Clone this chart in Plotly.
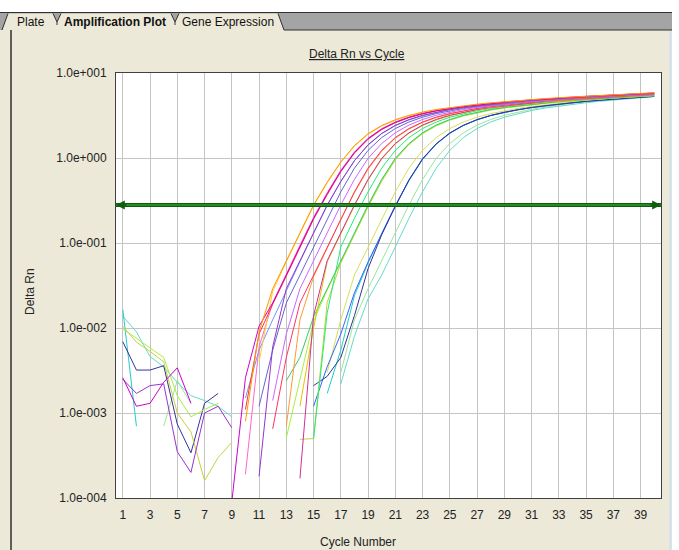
import math
import plotly.graph_objects as go

# ---------------- data ----------------
cycles = list(range(1, 41))
threshold = 0.28

x_tick_vals = list(range(1, 40, 2))
y_tick_vals = [1e-4, 1e-3, 1e-2, 1e-1, 1e0, 1e1]
y_tick_text = ["1.0e-004", "1.0e-003", "1.0e-002", "1.0e-001", "1.0e+000", "1.0e+001"]

# early (baseline) readings, starting at cycle 1 (None = not positive)
noise_w02 = [0.0026, 0.0012, 0.0013, 0.0023, 0.0034, 0.0013]
noise_w06 = [0.0025, 0.0017, 0.0021, 0.0022, 0.00035, 0.0002, 0.001, 0.0012, 0.00067]
noise_w15 = [0.0098, 0.0075, 0.0058, 0.0045, 0.0016, 0.0009, 0.0011, 0.0013]
noise_w17 = [0.0105, 0.0068, 0.0053, 0.004, 0.001, 0.0006, 0.00016, 0.0003, 0.00045]
noise_w18 = [0.0069, 0.0032, 0.0032, 0.0036, 0.00074, 0.00034, 0.0013, 0.0017]
noise_w20 = [0.0138, 0.009, 0.0046, 0.0035, 0.0023, 0.0016, 0.0014, 0.0012, 0.0009]
noise_w22 = [0.0165, 0.0007]
noise_w23 = [None, None, None, 0.0007, 0.0024, 0.0013]

# amplification readings: first cycle with a positive value, then values
start_w01, rise_w01 = 10, [0.0008, 0.009, 0.029, 0.062, 0.133, 0.28, 0.52, 0.90, 1.40, 1.93, 2.41, 2.82, 3.17, 3.47, 3.72, 3.93, 4.11, 4.30, 4.46, 4.61, 4.75, 4.88, 5.00, 5.12, 5.24, 5.35, 5.46, 5.56, 5.66, 5.76, 5.85]
start_w02, rise_w02 = 9, [0.00009, 0.0026, 0.0105, 0.0197, 0.042, 0.09, 0.195, 0.38, 0.70, 1.16, 1.69, 2.19, 2.63, 3.01, 3.33, 3.60, 3.83, 4.02, 4.19, 4.38, 4.54, 4.68, 4.82, 4.94, 5.06, 5.18, 5.30, 5.41, 5.51, 5.61, 5.71, 5.80]
start_w03, rise_w03 = 10, [0.0011, 0.0085, 0.019, 0.041, 0.088, 0.19, 0.37, 0.69, 1.14, 1.66, 2.16, 2.60, 2.98, 3.30, 3.57, 3.80, 4.00, 4.17, 4.35, 4.51, 4.65, 4.79, 4.91, 5.03, 5.15, 5.27, 5.38, 5.48, 5.58, 5.68, 5.77]
start_w04, rise_w04 = 11, [0.004, 0.027, 0.060, 0.130, 0.275, 0.51, 0.89, 1.38, 1.90, 2.38, 2.78, 3.13, 3.43, 3.68, 3.89, 4.07, 4.25, 4.41, 4.56, 4.70, 4.83, 4.95, 5.07, 5.19, 5.30, 5.41, 5.51, 5.61, 5.70, 5.79]
start_w05, rise_w05 = 10, [0.00019, 0.006, 0.0197, 0.044, 0.094, 0.20, 0.39, 0.72, 1.18, 1.71, 2.21, 2.65, 3.03, 3.35, 3.62, 3.85, 4.04, 4.22, 4.40, 4.56, 4.70, 4.84, 4.96, 5.08, 5.20, 5.32, 5.43, 5.53, 5.63, 5.73, 5.82]
start_w06, rise_w06 = 11, [0.00018, 0.006, 0.029, 0.062, 0.133, 0.28, 0.53, 0.93, 1.43, 1.95, 2.42, 2.83, 3.18, 3.47, 3.72, 3.93, 4.11, 4.30, 4.46, 4.61, 4.75, 4.88, 5.00, 5.12, 5.24, 5.35, 5.46, 5.56, 5.66, 5.76]
start_w07, rise_w07 = 10, [0.0015, 0.0055, 0.0125, 0.028, 0.060, 0.130, 0.275, 0.53, 0.93, 1.42, 1.93, 2.40, 2.80, 3.14, 3.43, 3.68, 3.89, 4.07, 4.25, 4.41, 4.56, 4.70, 4.83, 4.95, 5.07, 5.19, 5.30, 5.41, 5.51, 5.61, 5.70]
start_w08, rise_w08 = 11, [0.0012, 0.0055, 0.0197, 0.042, 0.09, 0.195, 0.40, 0.76, 1.23, 1.74, 2.22, 2.65, 3.02, 3.33, 3.60, 3.83, 4.02, 4.19, 4.38, 4.54, 4.68, 4.82, 4.94, 5.06, 5.18, 5.30, 5.41, 5.51, 5.61, 5.71]
start_w09, rise_w09 = 12, [0.0014, 0.0085, 0.029, 0.062, 0.133, 0.28, 0.56, 0.99, 1.48, 1.98, 2.44, 2.84, 3.18, 3.47, 3.72, 3.93, 4.11, 4.30, 4.46, 4.61, 4.75, 4.88, 5.00, 5.12, 5.24, 5.35, 5.46, 5.56, 5.66]
start_w10, rise_w10 = 12, [0.00065, 0.0045, 0.0197, 0.042, 0.09, 0.195, 0.40, 0.76, 1.23, 1.74, 2.22, 2.65, 3.02, 3.33, 3.60, 3.83, 4.02, 4.19, 4.38, 4.54, 4.68, 4.82, 4.94, 5.06, 5.18, 5.30, 5.41, 5.51, 5.61]
start_w11, rise_w11 = 13, [0.0007, 0.0125, 0.040, 0.088, 0.19, 0.39, 0.74, 1.20, 1.71, 2.19, 2.62, 2.99, 3.30, 3.57, 3.80, 4.00, 4.17, 4.35, 4.51, 4.65, 4.79, 4.91, 5.03, 5.15, 5.27, 5.38, 5.48, 5.58]
start_w12, rise_w12 = 14, [0.00017, 0.014, 0.062, 0.133, 0.28, 0.56, 0.99, 1.48, 1.98, 2.44, 2.84, 3.18, 3.47, 3.72, 3.93, 4.11, 4.30, 4.46, 4.61, 4.75, 4.88, 5.00, 5.12, 5.24, 5.35, 5.46, 5.56]
start_w13, rise_w13 = 14, [0.0012, 0.010, 0.060, 0.130, 0.275, 0.55, 0.97, 1.46, 1.95, 2.41, 2.80, 3.14, 3.43, 3.68, 3.89, 4.07, 4.25, 4.41, 4.56, 4.70, 4.83, 4.95, 5.07, 5.19, 5.30, 5.41, 5.51]
start_w14, rise_w14 = 13, [0.0024, 0.0045, 0.0135, 0.029, 0.062, 0.133, 0.28, 0.56, 0.99, 1.48, 1.98, 2.44, 2.84, 3.18, 3.47, 3.72, 3.93, 4.11, 4.30, 4.46, 4.61, 4.75, 4.88, 5.00, 5.12, 5.24, 5.35, 5.46]
start_w15, rise_w15 = 13, [0.00051, 0.0025, 0.012, 0.028, 0.060, 0.130, 0.275, 0.55, 0.97, 1.46, 1.95, 2.41, 2.80, 3.14, 3.43, 3.68, 3.89, 4.07, 4.25, 4.41, 4.56, 4.70, 4.83, 4.95, 5.07, 5.19, 5.30, 5.41]
start_w16, rise_w16 = 15, [0.0005, 0.015, 0.090, 0.195, 0.40, 0.76, 1.23, 1.74, 2.22, 2.65, 3.02, 3.33, 3.60, 3.83, 4.02, 4.19, 4.38, 4.54, 4.68, 4.82, 4.94, 5.06, 5.18, 5.30, 5.41, 5.51]
start_w17, rise_w17 = 14, [0.00049, 0.0005, 0.020, 0.058, 0.125, 0.265, 0.53, 0.95, 1.44, 1.93, 2.39, 2.79, 3.13, 3.42, 3.67, 3.88, 4.06, 4.24, 4.40, 4.55, 4.69, 4.82, 4.94, 5.06, 5.18, 5.29, 5.40]
start_w18, rise_w18 = 15, [0.0021, 0.0027, 0.0045, 0.014, 0.050, 0.125, 0.27, 0.55, 0.98, 1.47, 1.97, 2.43, 2.83, 3.17, 3.46, 3.71, 3.93, 4.12, 4.31, 4.48, 4.64, 4.79, 4.93, 5.06, 5.19, 5.31]
start_w19, rise_w19 = 15, [0.0012, 0.0035, 0.0085, 0.026, 0.060, 0.130, 0.275, 0.55, 0.97, 1.46, 1.96, 2.42, 2.82, 3.16, 3.45, 3.70, 3.92, 4.11, 4.30, 4.47, 4.63, 4.78, 4.92, 5.05, 5.18, 5.30]
start_w20, rise_w20 = 17, [0.0022, 0.008, 0.022, 0.042, 0.09, 0.195, 0.40, 0.76, 1.23, 1.74, 2.22, 2.65, 3.02, 3.33, 3.62, 3.87, 4.08, 4.28, 4.47, 4.65, 4.82, 4.98, 5.13, 5.27]
start_w21, rise_w21 = 16, [0.003, 0.0125, 0.042, 0.09, 0.195, 0.40, 0.76, 1.23, 1.74, 2.22, 2.65, 3.02, 3.33, 3.60, 3.83, 4.04, 4.23, 4.41, 4.58, 4.74, 4.89, 5.03, 5.16, 5.29, 5.41]
start_w22, rise_w22 = 16, [0.0017, 0.0055, 0.024, 0.058, 0.128, 0.27, 0.54, 0.96, 1.45, 1.95, 2.41, 2.81, 3.15, 3.45, 3.70, 3.92, 4.12, 4.31, 4.49, 4.66, 4.82, 4.96, 5.10, 5.23, 5.36]
start_w23, rise_w23 = 17, [0.003, 0.0125, 0.029, 0.062, 0.133, 0.28, 0.56, 0.99, 1.48, 1.98, 2.44, 2.84, 3.18, 3.47, 3.74, 3.98, 4.20, 4.40, 4.59, 4.77, 4.94, 5.10, 5.25, 5.40]

# drawing order (last on top) with line colours
wells = [
    (noise_w23, start_w23, rise_w23, "#99E699"),
    (noise_w20, start_w20, rise_w20, "#66D9CC"),
    (noise_w22, start_w22, rise_w22, "#22CCCC"),
    ([], start_w21, rise_w21, "#D8DE5A"),
    ([], start_w19, rise_w19, "#3366FF"),
    (noise_w18, start_w18, rise_w18, "#333399"),
    (noise_w17, start_w17, rise_w17, "#C8D040"),
    ([], start_w16, rise_w16, "#22EE77"),
    (noise_w15, start_w15, rise_w15, "#A6F040"),
    ([], start_w14, rise_w14, "#33CC66"),
    ([], start_w13, rise_w13, "#E6C300"),
    ([], start_w12, rise_w12, "#CC3399"),
    ([], start_w11, rise_w11, "#FF9933"),
    ([], start_w10, rise_w10, "#FF3366"),
    ([], start_w09, rise_w09, "#CC66FF"),
    ([], start_w08, rise_w08, "#6666CC"),
    ([], start_w07, rise_w07, "#6699FF"),
    (noise_w06, start_w06, rise_w06, "#9933CC"),
    ([], start_w05, rise_w05, "#FF66CC"),
    ([], start_w04, rise_w04, "#FFCC33"),
    ([], start_w03, rise_w03, "#FF3333"),
    (noise_w02, start_w02, rise_w02, "#CC00CC"),
    ([], start_w01, rise_w01, "#FF9900"),
]

# ---------------- figure ----------------
W, H = 679, 550
L, R, T, B = 116, 661, 73, 498
PANEL = "#ECE9D8"
DARK = "#303030"
FONT = "Liberation Sans, Arial, sans-serif"


def px(x):
    return (x - L) / (R - L)


def py(y):
    return (B - y) / (B - T)


fig = go.Figure()

for noise, start, rise, color in wells:
    y = list(noise) + [None] * (start - 1 - len(noise)) + list(rise)
    fig.add_trace(go.Scatter(
        x=cycles[:len(y)], y=y, mode="lines",
        line=dict(color=color, width=1), connectgaps=False,
        hoverinfo="skip", showlegend=False))

# threshold line
fig.add_trace(go.Scatter(x=[0.5, 40.5], y=[threshold, threshold], mode="lines",
                         line=dict(color="#0E5E0E", width=4), hoverinfo="skip", showlegend=False))
fig.add_trace(go.Scatter(x=[0.5, 40.5], y=[threshold, threshold], mode="lines",
                         line=dict(color="#2F9B2F", width=1.5), hoverinfo="skip", showlegend=False))

shapes = []


def seg(x0, y0, x1, y1, color=DARK, width=1):
    shapes.append(dict(type="line", xref="paper", yref="paper", x0=px(x0), x1=px(x1), y0=py(y0), y1=py(y1),
                       line=dict(color=color, width=width), layer="above"))


def poly(pts, fill):
    path = "M " + " L ".join(f"{px(a):.5f},{py(b):.5f}" for a, b in pts) + " Z"
    shapes.append(dict(type="path", xref="paper", yref="paper", path=path,
                       fillcolor=fill, line=dict(width=0), layer="above"))


# white strip at top and right
poly([(0, 0), (W, 0), (W, 12.5), (0, 12.5)], "white")
poly([(672, 0), (W, 0), (W, H), (672, H)], "white")
seg(670.5, 30, 670.5, H, "#CFE0EE", 2)
# tab bar
poly([(0, 12.5), (672, 12.5), (672, 30), (0, 30)], "#A4A4A4")
# tabs (all filled with panel colour)
poly([(2, 30.5), (8, 13.5), (53, 13.5), (57, 22), (57, 30.5)], PANEL)
poly([(57, 30.5), (57, 22), (61, 13.5), (171, 13.5), (175, 22), (175, 30.5)], PANEL)
poly([(175, 30.5), (175, 22), (179, 13.5), (278, 13.5), (284, 30.5)], PANEL)
seg(0, 12.5, 672, 12.5)
seg(284, 30, 672, 30)
seg(2, 30, 8, 13.5)
seg(53, 13.5, 57, 22)
seg(61, 13.5, 57, 22)
seg(57, 22, 57, 25)
seg(171, 13.5, 175, 22)
seg(179, 13.5, 175, 22)
seg(175, 22, 175, 25)
seg(278, 13.5, 284, 30)
# left dark frame line
seg(11, 30, 11, H, DARK, 1.5)

annotations = []
tab_texts = [("Plate", 31, False), ("Amplification Plot", 115, True), ("Gene Expression", 228, False)]
for txt, cx, bold in tab_texts:
    annotations.append(dict(xref="paper", yref="paper", x=px(cx), y=py(22), text=f"<b>{txt}</b>" if bold else txt,
                            showarrow=False, xanchor="center", yanchor="middle",
                            font=dict(family=FONT, size=12, color="#111111")))

annotations.append(dict(xref="paper", yref="paper", x=px(357), y=py(54), text="<u>Delta Rn vs Cycle</u>",
                        showarrow=False, xanchor="center", yanchor="middle",
                        font=dict(family=FONT, size=12, color="#222222")))
annotations.append(dict(xref="paper", yref="paper", x=px(30), y=py(292), text="Delta Rn", textangle=-90,
                        showarrow=False, xanchor="center", yanchor="middle",
                        font=dict(family=FONT, size=12, color="#222222")))
annotations.append(dict(xref="paper", yref="paper", x=px(358), y=py(542), text="Cycle Number",
                        showarrow=False, xanchor="center", yanchor="middle",
                        font=dict(family=FONT, size=12, color="#222222")))

# threshold arrowheads
ty = math.log10(threshold)
for xa, off in ((0.5, 12), (40.5, -12)):
    annotations.append(dict(xref="x", yref="y", x=xa, y=ty, ax=off, ay=0, text="",
                            showarrow=True, arrowhead=2, arrowsize=1.1, arrowwidth=1.6,
                            arrowcolor="#0E5E0E"))

fig.update_layout(
    width=W, height=H, autosize=False,
    margin=dict(l=L, r=W - R, t=T, b=H - B, pad=0),
    paper_bgcolor=PANEL, plot_bgcolor="white",
    showlegend=False, shapes=shapes, annotations=annotations,
    font=dict(family=FONT, size=12, color="#222222"),
)
fig.update_xaxes(range=[0.5, 40.5], tickmode="array", tickvals=x_tick_vals,
                 ticktext=[str(v) for v in x_tick_vals], showgrid=True, gridcolor="#C4C4C4", gridwidth=1,
                 zeroline=False, showline=True, linecolor="#404040", linewidth=1, mirror=True,
                 ticks="", ticklabelstandoff=6, tickfont=dict(family=FONT, size=12, color="#222222"))
fig.update_yaxes(type="log", range=[-4, 1], tickmode="array", tickvals=y_tick_vals, ticktext=y_tick_text,
                 showgrid=True, gridcolor="#C4C4C4", gridwidth=1, zeroline=False,
                 showline=True, linecolor="#404040", linewidth=1, mirror=True,
                 ticks="", ticklabelstandoff=6, tickfont=dict(family=FONT, size=12, color="#222222"))

fig.write_html("out.html", config={"displayModeBar": False})
